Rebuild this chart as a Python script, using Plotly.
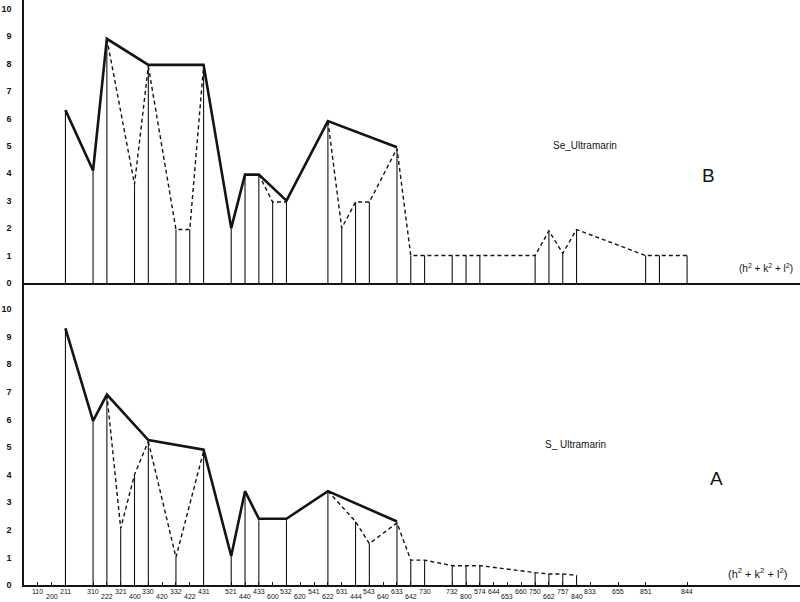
import plotly.graph_objects as go

# ---------------- data ----------------
# Panel B (Se-Ultramarin): line positions (h^2+k^2+l^2) and intensities
b_pos = [6, 10, 12, 16, 18, 22, 24, 26, 30, 32, 34, 36, 38, 44, 46, 48, 50, 54,
         56, 58, 62, 64, 66, 74, 76, 78, 80, 90, 92, 96]
b_int = [6.3, 4.1, 8.9, 3.6, 7.9, 1.95, 1.95, 7.9, 2.0, 3.95, 3.95, 2.95, 2.95, 5.9,
         2.0, 2.95, 2.95, 4.9, 1.0, 1.0, 1.0, 1.0, 1.0, 1.0, 1.9, 1.08, 1.95, 1.0, 1.0, 1.0]
b_env_x = [6, 10, 12, 18, 26, 30, 32, 34, 38, 44, 54]
b_env_y = [6.3, 4.1, 8.9, 7.95, 7.95, 2.0, 3.95, 3.95, 3.0, 5.9, 4.95]
b_dash = [
    ([12, 16, 18], [8.9, 3.6, 7.9]),
    ([18, 22, 24, 26], [7.9, 1.95, 1.95, 7.9]),
    ([34, 36, 38], [3.95, 2.95, 2.95]),
    ([44, 46, 48, 50, 54, 56, 58, 62, 64, 66, 74, 76, 78, 80, 90, 92, 96],
     [5.9, 2.0, 2.95, 2.95, 4.9, 1.0, 1.0, 1.0, 1.0, 1.0, 1.0, 1.9, 1.08, 1.95, 1.0, 1.0, 1.0]),
]

# Panel A (S-Ultramarin)
a_pos = [6, 10, 12, 14, 16, 18, 22, 26, 30, 32, 34, 38, 44, 48, 50, 54,
         56, 58, 62, 64, 66, 74, 76, 78, 80]
a_int = [9.3, 5.95, 6.9, 2.05, 4.0, 5.2, 1.0, 4.85, 1.05, 3.35, 2.35, 2.35, 3.35, 2.3,
         1.5, 2.25, 0.9, 0.9, 0.7, 0.7, 0.7, 0.45, 0.4, 0.4, 0.35]
a_env_x = [6, 10, 12, 18, 26, 30, 32, 34, 38, 44, 54]
a_env_y = [9.3, 5.95, 6.9, 5.25, 4.9, 1.05, 3.4, 2.4, 2.4, 3.4, 2.3]
a_dash = [
    ([12, 14, 16, 18], [6.9, 2.05, 4.0, 5.2]),
    ([18, 22, 26], [5.2, 1.0, 4.85]),
    ([44, 48, 50, 54, 56, 58, 62, 64, 66, 74, 76, 78, 80],
     [3.4, 2.3, 1.5, 2.25, 0.9, 0.9, 0.7, 0.7, 0.7, 0.45, 0.4, 0.4, 0.35]),
]

# x tick values and Miller-index labels (row 0 = upper, 1 = lower)
tick_vals = [2, 4, 6, 10, 12, 14, 16, 18, 20, 22, 24, 26, 30, 32, 34, 36, 38, 40, 42, 44,
             46, 48, 50, 52, 54, 56, 58, 62, 64, 66, 68, 70, 72, 74, 76, 78, 80, 82, 86, 90, 96]
tick_text = ["110", "200", "211", "310", "222", "321", "400", "330", "420", "332", "422",
             "431", "521", "440", "433", "600", "532", "620", "541", "622", "631", "444",
             "543", "640", "633", "642", "730", "732", "800", "574", "644", "653", "660",
             "750", "662", "757", "840", "833", "655", "851", "844"]
tick_row = [0, 1, 0, 0, 1, 0, 1, 0, 1, 0, 1, 0, 0, 1, 0, 1, 0, 1, 0, 1,
            0, 1, 0, 1, 0, 1, 0, 0, 1, 0, 0, 1, 0, 0, 1, 0, 1, 0, 0, 0, 0]
y_ticks = list(range(0, 11))

INK = "#141414"
FONT = "Liberation Sans"

fig = go.Figure()


def add_panel(pos, inten, env_x, env_y, dashes, xa, ya):
    vx, vy = [], []
    for p, h in zip(pos, inten):
        vx += [p, p, None]
        vy += [0, h, None]
    fig.add_trace(go.Scatter(x=vx, y=vy, mode="lines", xaxis=xa, yaxis=ya,
                             line=dict(color=INK, width=1.1), hoverinfo="skip"))
    for dx, dy in dashes:
        fig.add_trace(go.Scatter(x=dx, y=dy, mode="lines", xaxis=xa, yaxis=ya,
                                 line=dict(color=INK, width=1.4, dash="4px,3px"),
                                 hoverinfo="skip"))
    fig.add_trace(go.Scatter(x=env_x, y=env_y, mode="lines", xaxis=xa, yaxis=ya,
                             line=dict(color=INK, width=2.6), hoverinfo="skip"))


add_panel(b_pos, b_int, b_env_x, b_env_y, b_dash, "x", "y")
add_panel(a_pos, a_int, a_env_x, a_env_y, a_dash, "x2", "y2")

split = 1 - 283 / 585
xr = [0, 776 / 6.907]
axis_common = dict(showgrid=False, zeroline=False, showline=True, linecolor=INK,
                   linewidth=1.5, automargin=False)
yfont = dict(size=9, family=FONT, color=INK, weight="bold")
fig.update_layout(
    width=800, height=602,
    margin=dict(l=24, r=0, t=0, b=17, autoexpand=False),
    paper_bgcolor="white", plot_bgcolor="white",
    showlegend=False,
    font=dict(family=FONT, color=INK),
    xaxis=dict(domain=[0, 1], range=xr, anchor="y", showticklabels=False, ticks="",
               **axis_common),
    yaxis=dict(domain=[split, 1], range=[0, 283 / 27.44], anchor="x",
               tickvals=y_ticks, ticks="", ticklabelstandoff=9, tickfont=yfont,
               **axis_common),
    xaxis2=dict(domain=[0, 1], range=xr, anchor="y2", showticklabels=False,
                tickvals=tick_vals, ticks="inside", ticklen=3, tickwidth=1,
                tickcolor=INK, **axis_common),
    yaxis2=dict(domain=[0, split], range=[0, 302 / 27.6], anchor="x2",
                tickvals=y_ticks, ticks="", ticklabelstandoff=9, tickfont=yfont,
                **axis_common),
)

ann = []
for v, t, r in zip(tick_vals, tick_text, tick_row):
    ann.append(dict(x=v, y=0, xref="x2", yref="paper", text=t, showarrow=False,
                    xanchor="center", yanchor="top", yshift=-1 - 5 * r,
                    font=dict(size=7, family=FONT, color=INK)))


def px_x(p):
    return (p - 24) / 776


def px_y(p):
    return 1 - p / 585


def label(xp, yp, text, size):
    return dict(x=px_x(xp), y=px_y(yp), xref="paper", yref="paper", text=text,
                showarrow=False, xanchor="center", yanchor="middle",
                font=dict(size=size, family=FONT, color=INK))


hkl = "(h<sup>2</sup> + k<sup>2</sup> + l<sup>2</sup>)"
ann += [
    label(766, 268, hkl, 10),
    label(757, 573, hkl, 11),
    label(585, 145, "Se_Ultramarin", 10),
    label(708, 175, "B", 19),
    label(575, 444, "S_ Ultramarin", 10),
    label(716, 478, "A", 19),
]
fig.update_layout(annotations=ann)

fig.write_html("out.html",
               config={"displayModeBar": False},
               post_script="document.body.style.margin='0';"
                           "document.body.style.padding='0';"
                           "document.body.style.overflow='hidden';")
